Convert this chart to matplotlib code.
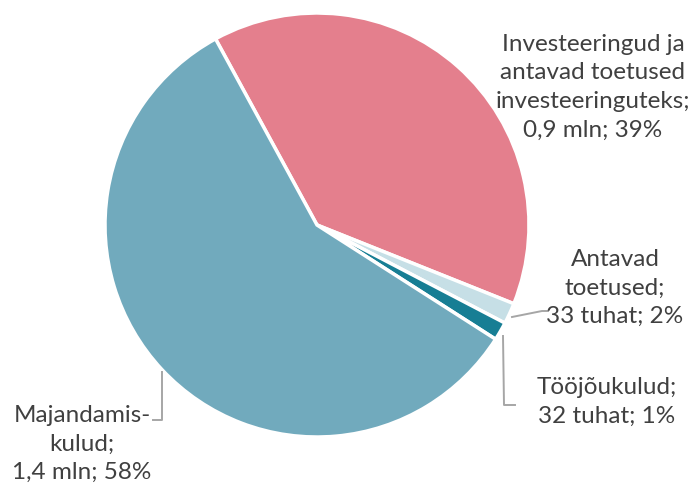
import matplotlib
matplotlib.use("Agg")
import matplotlib.pyplot as plt

categories = ["Investeeringud ja antavad toetused investeeringuteks",
              "Antavad toetused", "Tööjõukulud", "Majandamiskulud"]
shares = [39.0, 1.6, 1.4, 58.0]
colors = ["#E47F8D", "#C6DFE6", "#177E94", "#71AABD"]
labels = ["Investeeringud ja\nantavad toetused\ninvesteeringuteks;\n0,9 mln; 39%",
          "Antavad\ntoetused;\n33 tuhat; 2%",
          "Tööjõukulud;\n32 tuhat; 1%",
          "Majandamis-\nkulud;\n1,4 mln; 58%"]

W, H = 697, 490
fig = plt.figure(figsize=(W / 100, H / 100), dpi=100)
ax = fig.add_axes([0, 0, 1, 1])
cx, cy, r = 317, H - 225, 212
ax.pie(shares, colors=colors, startangle=118.6, counterclock=False,
       center=(cx, cy), radius=r,
       wedgeprops=dict(edgecolor="white", linewidth=2.5))
ax.set_xlim(0, W)
ax.set_ylim(0, H)
ax.set_aspect("equal")
ax.axis("off")

tc = "#404040"
font = dict(family="Lato", fontsize=17.5, color=tc, ha="center", va="center",
            linespacing=1.45)
ax.text(593, H - 87, labels[0], **font)
ax.text(615, H - 288, labels[1], **font)
ax.text(607, H - 402, labels[2], **font)
ax.text(82, H - 444, labels[3], **font)

lc = "#A6A6A6"
ax.plot([512, 542, 548], [H - 317, H - 311, H - 311], color=lc, lw=1.4)
ax.plot([503, 504, 515], [H - 336, H - 405, H - 405], color=lc, lw=1.4)
ax.plot([162, 162, 153], [H - 372, H - 420, H - 420], color=lc, lw=1.4)

fig.savefig("out.png", dpi=100)
